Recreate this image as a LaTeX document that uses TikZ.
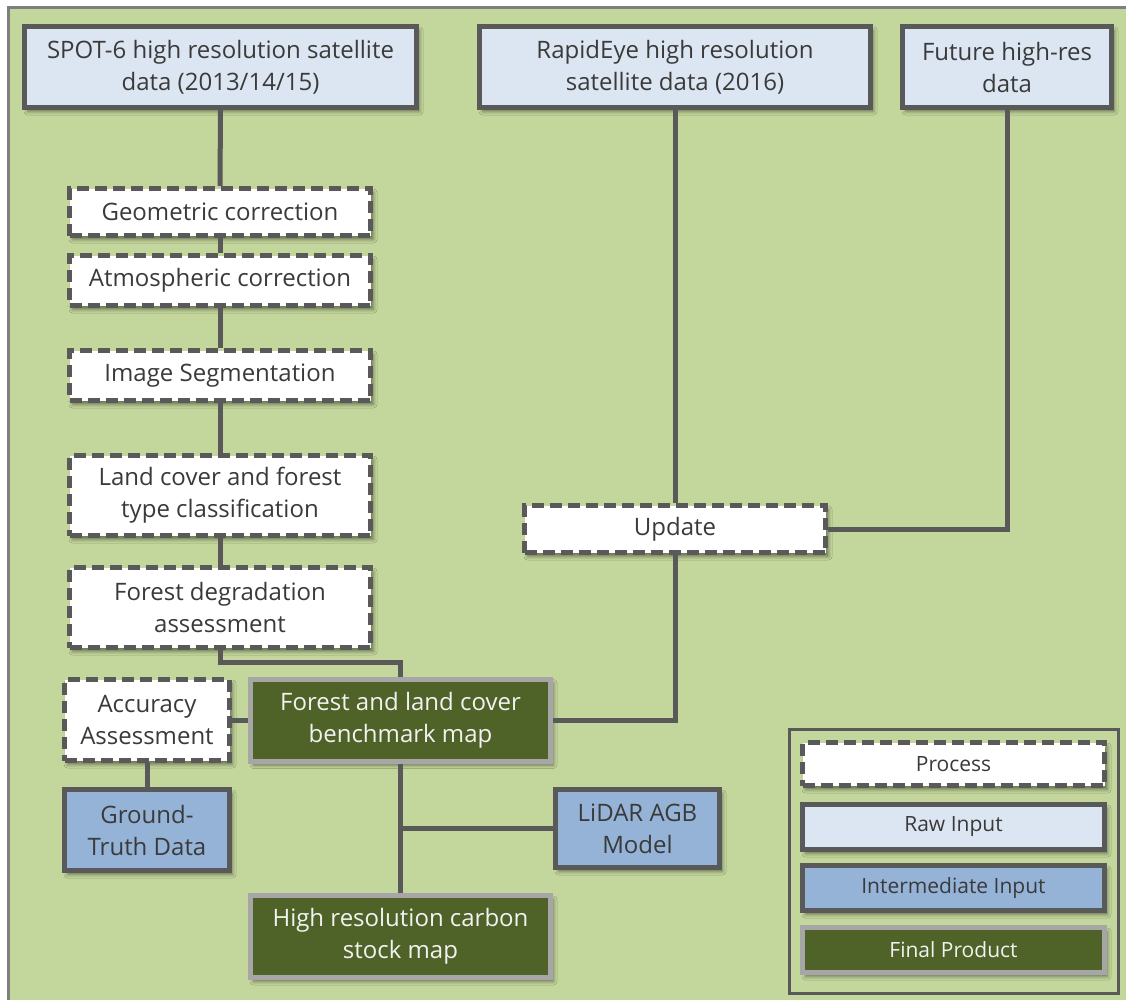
\documentclass[tikz,border=0pt]{standalone}
\usepackage{fontspec}
\setmainfont{Open Sans}
\usetikzlibrary{shadows.blur}

\definecolor{pagegreen}{HTML}{C3D69B}
\definecolor{framegray}{HTML}{7F7F7F}
\definecolor{linegray}{HTML}{595959}
\definecolor{rawblue}{HTML}{DCE6F2}
\definecolor{midblue}{HTML}{95B3D7}
\definecolor{finalgreen}{HTML}{4F6228}
\definecolor{finalrim}{HTML}{A6A6A6}
\definecolor{inktext}{HTML}{3A3A3A}

\tikzset{
  box/.style={rectangle, align=center, inner sep=0pt, line width=5pt,
    text=inktext, font=\fontsize{24}{32}\selectfont,
    blur shadow={shadow xshift=3pt, shadow yshift=-4pt,
      shadow blur radius=3.5pt, shadow opacity=45}},
  procbox/.style={box, fill=white, draw=linegray,
    dash pattern=on 12pt off 6pt},
  rawbox/.style={box, fill=rawblue, draw=linegray},
  midbox/.style={box, fill=midblue, draw=linegray},
  finalbox/.style={box, fill=finalgreen, draw=finalrim, text=white!95!black},
  keyfont/.style={font=\fontsize{21}{26}\selectfont},
  link/.style={draw=linegray, line width=5pt},
}

\begin{document}
\begin{tikzpicture}[x=1pt, y=-1pt]
\useasboundingbox (0,0) rectangle (1126,999);
\fill[white] (0,0) rectangle (1126,999);
\draw[line width=3pt, draw=framegray, fill=pagegreen] (8.5,7.5) rectangle (1140,1012);

% raw inputs
\node[rawbox, minimum width=392pt, minimum height=81pt] (spot) at (220.5,67)
  {SPOT-6 high resolution satellite\\data (2013/14/15)};
\node[rawbox, minimum width=391pt, minimum height=81pt] (rapid) at (675,67)
  {RapidEye high resolution\\satellite data (2016)};
\node[rawbox, minimum width=209pt, minimum height=81pt] (future) at (1007,67)
  {Future high-res\\data};

% processing chain
\node[procbox, minimum width=301pt, minimum height=47pt] (geo) at (220,212)
  {Geometric correction};
\node[procbox, minimum width=301pt, minimum height=50pt] (atm) at (220,280.5)
  {Atmospheric correction};
\node[procbox, minimum width=301pt, minimum height=50pt] (seg) at (220,375.5)
  {Image Segmentation};
\node[procbox, minimum width=301pt, minimum height=80pt] (land) at (220,495.5)
  {Land cover and forest\\type classification};
\node[procbox, minimum width=301pt, minimum height=80pt] (deg) at (220,607.5)
  {Forest degradation\\assessment};
\node[procbox, minimum width=301pt, minimum height=47pt] (update) at (675,529)
  {Update};
\node[procbox, minimum width=165pt, minimum height=81pt] (acc) at (147,720)
  {Accuracy\\Assessment};

% products and intermediate inputs
\node[finalbox, minimum width=300pt, minimum height=82pt] (bench) at (400.5,720)
  {Forest and land cover\\benchmark map};
\node[midbox, minimum width=165pt, minimum height=81pt] (gt) at (147,830)
  {Ground-\\Truth Data};
\node[midbox, minimum width=164pt, minimum height=78pt] (lidar) at (637.5,828.5)
  {LiDAR AGB\\Model};
\node[finalbox, minimum width=300pt, minimum height=82pt] (carbon) at (400.5,936.5)
  {High resolution carbon\\stock map};

% connectors
\draw[link] (spot.south) -- (geo.north);
\draw[link] (geo.south) -- (atm.north);
\draw[link] (atm.south) -- (seg.north);
\draw[link] (seg.south) -- (land.north);
\draw[link] (land.south) -- (deg.north);
\draw[link] (deg.south) -- ++(0,12) -| (bench.north);
\draw[link] (acc.east) -- (acc.east -| bench.west);
\draw[link] (acc.south) -- (gt.north);
\draw[link] (bench.south) -- (carbon.north);
\draw[link] (lidar.west) -- (lidar.west -| bench.south);
\draw[link] (rapid.south) -- (update.north);
\draw[link] (future.south) |- (update.east);
\draw[link] (update.south) |- (bench.east);

% legend
\draw[line width=3.5pt, draw=linegray] (789.5,729.5) rectangle (1118.5,993.5);
\node[procbox, keyfont, minimum width=302pt, minimum height=43pt] (kproc) at (953.5,764) {Process};
\node[rawbox, keyfont, minimum width=302pt, minimum height=45pt] (kraw) at (953.5,827) {Raw Input};
\node[midbox, keyfont, minimum width=302pt, minimum height=45pt] (kmid) at (953.5,888) {Intermediate Input};
\node[finalbox, keyfont, minimum width=302pt, minimum height=45pt] (kfinal) at (953.5,950) {Final Product};
\end{tikzpicture}
\end{document}
